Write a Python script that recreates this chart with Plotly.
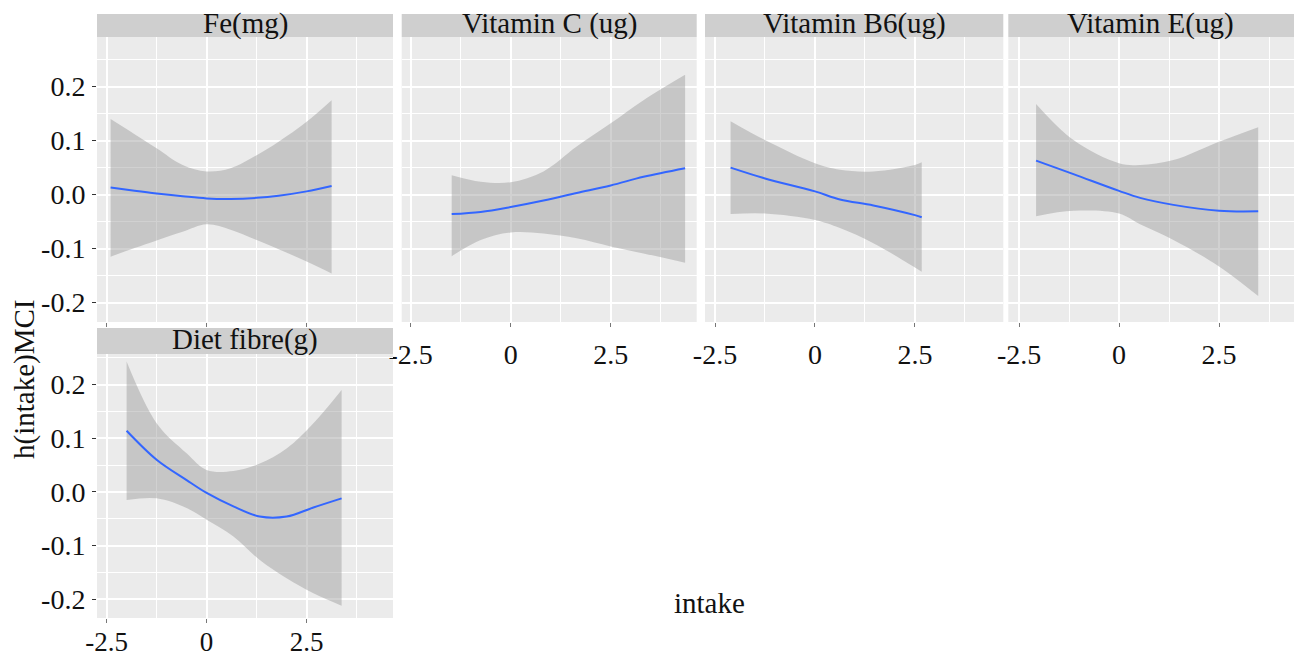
import plotly.graph_objects as go

W, H = 1294, 661

# ---------------- data ----------------
panel_titles = ["Fe(mg)", "Vitamin C (ug)", "Vitamin B6(ug)", "Vitamin E(ug)", "Diet fibre(g)"]

fe_x     = [-2.4, -1.8, -1.25, -0.6, 0.0, 0.6, 1.25, 1.8, 2.5, 3.125]
fe_fit   = [0.013, 0.007, 0.002, -0.003, -0.007, -0.008, -0.006, -0.002, 0.006, 0.016]
fe_upper = [0.140, 0.112, 0.086, 0.055, 0.043, 0.049, 0.073, 0.098, 0.135, 0.175]
fe_lower = [-0.115, -0.099, -0.085, -0.069, -0.055, -0.065, -0.084, -0.101, -0.124, -0.146]

vc_x     = [-1.475, -0.75, 0.0, 0.82, 1.65, 2.5, 3.32, 4.36]
vc_fit   = [-0.036, -0.032, -0.023, -0.011, 0.003, 0.017, 0.033, 0.049]
vc_upper = [0.036, 0.024, 0.023, 0.043, 0.089, 0.132, 0.175, 0.222]
vc_lower = [-0.114, -0.084, -0.070, -0.072, -0.081, -0.096, -0.109, -0.126]

b6_x     = [-2.11, -1.25, 0.0, 0.625, 1.46, 2.5, 2.67]
b6_fit   = [0.050, 0.030, 0.006, -0.009, -0.020, -0.038, -0.042]
b6_upper = [0.136, 0.101, 0.058, 0.046, 0.043, 0.055, 0.060]
b6_lower = [-0.036, -0.035, -0.047, -0.062, -0.090, -0.135, -0.143]

ve_x     = [-2.075, -1.14, 0.0, 0.525, 1.36, 2.5, 3.48]
ve_fit   = [0.063, 0.038, 0.007, -0.006, -0.019, -0.030, -0.031]
ve_upper = [0.168, 0.101, 0.058, 0.055, 0.064, 0.098, 0.125]
ve_lower = [-0.040, -0.030, -0.035, -0.055, -0.084, -0.133, -0.188]

df_x     = [-2.0, -1.25, -0.5, 0.0, 0.67, 1.33, 2.0, 2.67, 3.375]
df_fit   = [0.114, 0.060, 0.022, -0.002, -0.027, -0.046, -0.046, -0.029, -0.012]
df_upper = [0.243, 0.128, 0.072, 0.041, 0.039, 0.053, 0.081, 0.128, 0.190]
df_lower = [-0.015, -0.012, -0.030, -0.052, -0.083, -0.127, -0.161, -0.189, -0.212]

x_tickvals = [-2.5, 0, 2.5]
x_ticktext = ["-2.5", "0", "2.5"]
x_minor = [-1.25, 1.25, 3.75]
y_tickvals = [-0.2, -0.1, 0.0, 0.1, 0.2]
y_ticktext = ["-0.2", "-0.1", "0.0", "0.1", "0.2"]
y_minor = [-0.15, -0.05, 0.05, 0.15, 0.25]

x_label = "intake"
y_label = "h(intake)MCI"

# ---------------- layout geometry (pixels) ----------------
def fx(px):
    return px / W

def fy(py):
    return 1 - py / H

panels = [
    # (data, x px range, y px range, xrange, yrange, show x labels, show y labels, strip py range, strip label x px)
    ((fe_x, fe_fit, fe_upper, fe_lower), (97, 393), (37, 322), [-2.74, 4.66], [-0.236, 0.292], False, True, (14, 37), 245),
    ((vc_x, vc_fit, vc_upper, vc_lower), (401.7, 696.7), (37, 322), [-2.725, 4.65], [-0.236, 0.292], True, False, (14, 37), 549),
    ((b6_x, b6_fit, b6_upper, b6_lower), (705, 1003.3), (37, 322), [-2.75, 4.71], [-0.236, 0.292], True, False, (14, 37), 854),
    ((ve_x, ve_fit, ve_upper, ve_lower), (1008.3, 1294), (37, 322), [-2.77, 4.375], [-0.236, 0.292], True, False, (14, 37), 1150),
    ((df_x, df_fit, df_upper, df_lower), (97, 393), (354, 618), [-2.74, 4.66], [-0.235, 0.257], True, True, (328, 354), 245),
]

FONT = "Liberation Serif, Times New Roman, serif"
TXT = "#111111"
fig = go.Figure()
shapes = []
annotations = []
layout_axes = {}

for i, (data, xpx, ypx, xr, yr, showx, showy, strip, sx) in enumerate(panels):
    n = i + 1
    xa = "x" if n == 1 else f"x{n}"
    ya = "y" if n == 1 else f"y{n}"
    xs, fit, up, lo = data
    # confidence ribbon: lower edge then upper edge filled to it
    fig.add_trace(go.Scatter(
        x=xs, y=lo, mode="lines", line=dict(width=0, shape="spline", smoothing=1.0),
        hoverinfo="skip", showlegend=False, xaxis=xa, yaxis=ya))
    fig.add_trace(go.Scatter(
        x=xs, y=up, mode="lines", line=dict(width=0, shape="spline", smoothing=1.0),
        fill="tonexty", fillcolor="rgba(153,153,153,0.45)",
        hoverinfo="skip", showlegend=False, xaxis=xa, yaxis=ya))
    fig.add_trace(go.Scatter(
        x=xs, y=fit, mode="lines", line=dict(color="#3366FF", width=2, shape="spline", smoothing=1.0),
        showlegend=False, xaxis=xa, yaxis=ya))

    standoff = -4 if n == 5 else 3
    xfont = 27 if n == 5 else 28
    layout_axes["xaxis" if n == 1 else f"xaxis{n}"] = dict(
        domain=[fx(xpx[0]), fx(xpx[1])], range=xr, anchor=ya,
        tickmode="array", tickvals=x_tickvals, ticktext=x_ticktext,
        showticklabels=showx, ticks="outside", ticklen=4, tickwidth=1, tickcolor="#777777",
        ticklabelstandoff=standoff,
        tickfont=dict(family=FONT, size=xfont, color=TXT),
        showgrid=True, gridcolor="white", gridwidth=1.6, zeroline=False, showline=False,
        minor=dict(tickvals=x_minor, showgrid=True, gridcolor="white", gridwidth=0.8, ticks=""),
        automargin=False, fixedrange=True,
    )
    layout_axes["yaxis" if n == 1 else f"yaxis{n}"] = dict(
        domain=[fy(ypx[1]), fy(ypx[0])], range=yr, anchor=xa,
        tickmode="array", tickvals=y_tickvals, ticktext=y_ticktext,
        showticklabels=showy, ticks="outside" if showy else "", ticklen=4, tickwidth=1, tickcolor="#333333",
        ticklabelstandoff=1,
        tickfont=dict(family=FONT, size=28, color=TXT),
        showgrid=True, gridcolor="white", gridwidth=1.6, zeroline=False, showline=False,
        minor=dict(tickvals=y_minor, showgrid=True, gridcolor="white", gridwidth=0.8, ticks=""),
        automargin=False, fixedrange=True,
    )
    # facet strip
    shapes.append(dict(type="rect", xref="paper", yref="paper",
                       x0=fx(xpx[0]), x1=fx(xpx[1]), y0=fy(strip[1]), y1=fy(strip[0]),
                       fillcolor="#CFCFCF", line=dict(width=0), layer="above"))
    annotations.append(dict(text=panel_titles[i], xref="paper", yref="paper",
                            x=fx(sx), y=fy((strip[0] + strip[1]) / 2 - 2),
                            xanchor="center", yanchor="middle",
                            showarrow=False, font=dict(family=FONT, size=29, color=TXT)))

annotations.append(dict(text=x_label, xref="paper", yref="paper", x=fx(709), y=fy(603),
                        xanchor="center", yanchor="middle", showarrow=False,
                        font=dict(family=FONT, size=29, color=TXT)))
annotations.append(dict(text=y_label, xref="paper", yref="paper", x=fx(25), y=fy(380),
                        xanchor="center", yanchor="middle", showarrow=False, textangle=-90,
                        font=dict(family=FONT, size=29, color=TXT)))

fig.update_layout(
    width=W, height=H, margin=dict(l=0, r=0, t=0, b=0),
    paper_bgcolor="white", plot_bgcolor="#EBEBEB",
    shapes=shapes, annotations=annotations, showlegend=False,
    **layout_axes,
)

fig.write_html("out.html", config=dict(displayModeBar=False))
